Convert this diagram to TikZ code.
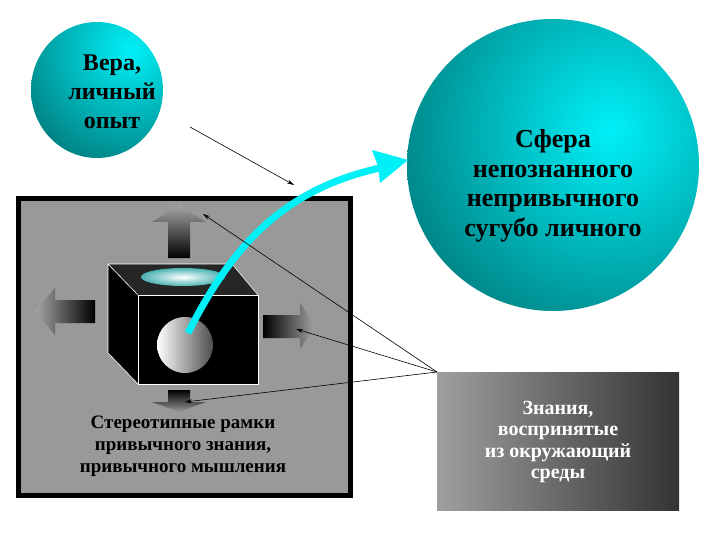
\documentclass[tikz,border=0pt]{standalone}
\usepackage{fontspec}
\setmainfont{Liberation Serif}
\usetikzlibrary{arrows.meta,shadings}
\definecolor{cyanb}{HTML}{00F0F8}
\definecolor{tealdk}{HTML}{007070}
\definecolor{grayf}{HTML}{999999}
\tikzset{
  lbl/.style={font=\bfseries, align=center, inner sep=0pt},
  thin arrow/.style={-{Stealth[length=7pt,width=4pt]}, line width=0.6pt}
}
\begin{document}
\begin{tikzpicture}[x=1pt,y=-1pt]
\useasboundingbox (0,0) rectangle (720,540);
\fill[white] (0,0) rectangle (720,540);
% frame
\fill[black] (16,196) rectangle (353,498);
\fill[grayf] (21,201) rectangle (348,493);
% arrows (gradients)
\shade[top color=gray!70!white, bottom color=black] (168,222) -- (152,222) -- (179,205) -- (206,222) -- (190,222) -- (190,258) -- (168,258) -- cycle;
\shade[left color=gray!70!white, right color=black] (95,300) -- (55,300) -- (55,288) -- (35,311) -- (55,335) -- (55,323) -- (95,323) -- cycle;
\shade[left color=black, right color=gray!70!white] (263,315) -- (300,315) -- (300,303) -- (316,326) -- (300,349) -- (300,338) -- (263,338) -- cycle;
\shade[top color=black, bottom color=gray!80!white] (168,390) -- (190,390) -- (190,402) -- (206,402) -- (179,412) -- (152,402) -- (168,402) -- cycle;
% cube
\fill[black] (108,264) -- (232,264) -- (258,295) -- (258,384) -- (138,384) -- (108,353) -- cycle;
\fill[black!85!white] (108,264) -- (232,264) -- (258,295) -- (138,295) -- cycle;
\draw[white, line width=0.6pt] (108,264) -- (232,264) -- (258,295) (108,264) -- (138,295) (108,264) -- (108,353) -- (138,384);
\draw[white, line width=0.8pt] (138,295) rectangle (258,384);
\shade[inner color=white, outer color=cyan!40!gray] (183,277) ellipse [x radius=42, y radius=9];
\node[circle, minimum size=56pt, inner sep=0pt, left color=white, right color=gray!60!black, draw=none] (sph) at (185,345) {};
% text in frame
\node[lbl, font=\bfseries\fontsize{19}{22}\selectfont] (frametxt) at (183,446) {Стереотипные рамки\\привычного знания,\\привычного мышления};
% top-left ellipse
\begin{scope}
\clip (97,90) ellipse [x radius=66, y radius=68];
\shade[inner color=cyanb, outer color=tealdk] (130,50) circle (140);
\end{scope}
\node[lbl, font=\bfseries\fontsize{24}{29}\selectfont] (vera) at (112,92) {Вера,\\личный\\опыт};
% big circle
\begin{scope}
\clip (553,165) ellipse [x radius=146, y radius=146];
\shade[inner color=cyanb, outer color=tealdk] (610,130) circle (260);
\end{scope}
\node[lbl, font=\bfseries\fontsize{26}{29.5}\selectfont] (sfera) at (553,186) {Сфера\\непознанного\\непривычного\\сугубо личного};
% bottom-right rect
\shade[left color=gray!75!white, right color=black!80!white] (437,372) rectangle (679,510);
\node[lbl, text=white, font=\bfseries\fontsize{20}{21.5}\selectfont] (znan) at (558,442) {Знания,\\воспринятые\\из окружающий\\среды};
% cyan curve
\coordinate (cs) at (188,333);
\draw[cyanb, line width=7pt] (cs) .. controls (230,250) and (280,190) .. (380,168);
\fill[cyanb] (408,160) -- (372,150) -- (378,166) -- (380,183) -- cycle;
% thin arrows
\coordinate (zc) at (437,372);
\draw[thin arrow] (190,127) -- (294,185);
\draw[thin arrow] (zc) -- (203,214);
\draw[thin arrow] (zc) -- (296,329);
\draw[thin arrow] (zc) -- (185,402);
\end{tikzpicture}
\end{document}
